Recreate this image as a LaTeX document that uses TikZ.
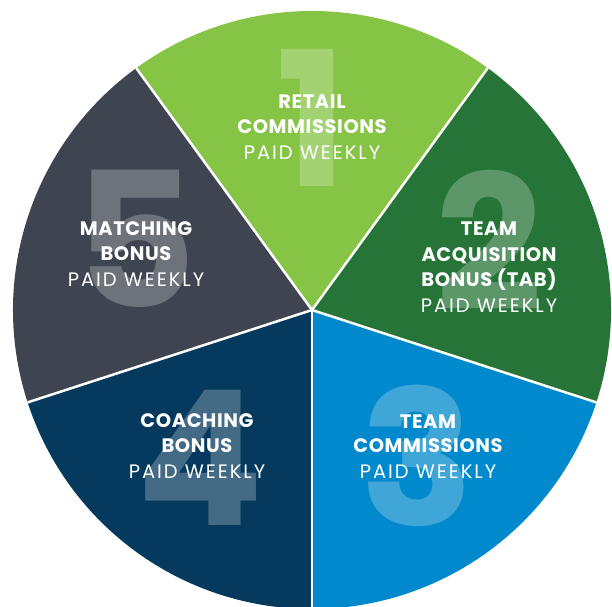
\documentclass[tikz,border=0pt]{standalone}
\usepackage{fontspec}
\setmainfont{Poppins}
\definecolor{cA}{RGB}{133,196,69}
\definecolor{cB}{RGB}{38,116,55}
\definecolor{cC}{RGB}{0,137,204}
\definecolor{cD}{RGB}{5,58,94}
\definecolor{cE}{RGB}{62,68,80}
\tikzset{
  bignum/.style={text=white, text opacity=0.25, inner sep=0pt, anchor=base,
    font=\bfseries\fontsize{188}{188}\selectfont},
  hd/.style={text=white, inner sep=0pt, anchor=base, font=\bfseries\fontsize{19.5}{22}\selectfont\addfontfeatures{LetterSpace=3}},
  pw/.style={text=white, inner sep=0pt, anchor=base, font=\fontsize{19.5}{22}\selectfont\addfontfeatures{LetterSpace=10}},
  sep/.style={white, line width=2.5pt}
}
\begin{document}
\begin{tikzpicture}[x=1pt,y=1pt]
\useasboundingbox (0,0) rectangle (612,606);
\coordinate (O) at (312,296);
\def\R{299}
\fill[cA] (O) -- ++(54:\R) arc[start angle=54,end angle=126,radius=\R] -- cycle;
\fill[cB] (O) -- ++(-18:\R) arc[start angle=-18,end angle=54,radius=\R] -- cycle;
\fill[cC] (O) -- ++(-90:\R) arc[start angle=-90,end angle=-18,radius=\R] -- cycle;
\fill[cD] (O) -- ++(198:\R) arc[start angle=198,end angle=270,radius=\R] -- cycle;
\fill[cE] (O) -- ++(126:\R) arc[start angle=126,end angle=198,radius=\R] -- cycle;
\path (O) ++(54:\R) coordinate (b1);
\path (O) ++(126:\R) coordinate (b2);
\path (O) ++(198:\R) coordinate (b3);
\path (O) ++(270:\R) coordinate (b4);
\path (O) ++(342:\R) coordinate (b5);
\foreach \b in {b1,b2,b3,b4,b5} \draw[sep] (O) -- (\b);
% big numbers
\node[bignum] (n1) at (312,419) {1};
\node[bignum] (n2) at (489,296) {2};
\node[bignum] (n3) at (417,81) {3};
\node[bignum] (n4) at (200,81) {4};
\node[bignum] (n5) at (136,299) {5};
% sector 1
\node[hd] (t1a) at (312,497) {RETAIL};
\node[hd] (t1b) at (312,472) {COMMISSIONS};
\node[pw] (t1c) at (312,446) {PAID WEEKLY};
% sector 2
\node[hd] (t2a) at (489,371) {TEAM};
\node[hd] (t2b) at (489,345) {ACQUISITION};
\node[hd] (t2c) at (489,320) {BONUS (TAB)};
\node[pw] (t2d) at (489,294) {PAID WEEKLY};
% sector 3
\node[hd] (t3a) at (428,178) {TEAM};
\node[hd] (t3b) at (428,154) {COMMISSIONS};
\node[pw] (t3c) at (428,128) {PAID WEEKLY};
% sector 4
\node[hd] (t4a) at (197,179) {COACHING};
\node[hd] (t4b) at (197,154) {BONUS};
\node[pw] (t4c) at (197,128) {PAID WEEKLY};
% sector 5
\node[hd] (t5a) at (136,371) {MATCHING};
\node[hd] (t5b) at (136,346) {BONUS};
\node[pw] (t5c) at (136,320) {PAID WEEKLY};
\end{tikzpicture}
\end{document}
